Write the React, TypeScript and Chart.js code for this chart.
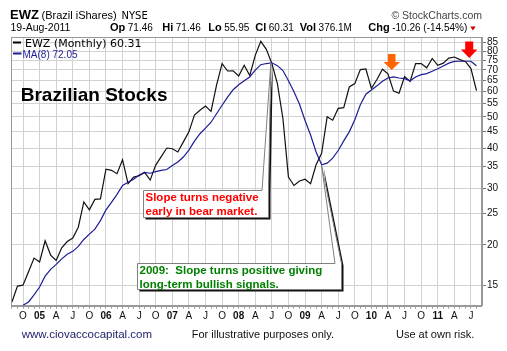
import React, { useEffect, useRef } from "react";
import { Chart, registerables } from "chart.js";

Chart.register(...registerables);

// Monthly periods (Aug 2004 .. Aug 2011)
const months = [
  "Aug-04","Sep-04","Oct-04","Nov-04","Dec-04",
  "Jan-05","Feb-05","Mar-05","Apr-05","May-05","Jun-05","Jul-05","Aug-05","Sep-05","Oct-05","Nov-05","Dec-05",
  "Jan-06","Feb-06","Mar-06","Apr-06","May-06","Jun-06","Jul-06","Aug-06","Sep-06","Oct-06","Nov-06","Dec-06",
  "Jan-07","Feb-07","Mar-07","Apr-07","May-07","Jun-07","Jul-07","Aug-07","Sep-07","Oct-07","Nov-07","Dec-07",
  "Jan-08","Feb-08","Mar-08","Apr-08","May-08","Jun-08","Jul-08","Aug-08","Sep-08","Oct-08","Nov-08","Dec-08",
  "Jan-09","Feb-09","Mar-09","Apr-09","May-09","Jun-09","Jul-09","Aug-09","Sep-09","Oct-09","Nov-09","Dec-09",
  "Jan-10","Feb-10","Mar-10","Apr-10","May-10","Jun-10","Jul-10","Aug-10","Sep-10","Oct-10","Nov-10","Dec-10",
  "Jan-11","Feb-11","Mar-11","Apr-11","May-11","Jun-11","Jul-11","Aug-11",
];

// EWZ monthly close
const closes = [
  13.3, 14.9, 15.0, 16.5, 18.2,
  17.7, 20.6, 18.6, 17.9, 19.6, 20.5, 21.0, 22.7, 27.2, 25.7, 27.7, 27.8,
  34.4, 34.1, 33.3, 36.8, 31.0, 32.5, 32.8, 33.6, 31.8, 35.4, 37.6, 40.0,
  39.8, 38.9, 41.8, 44.9, 50.6, 52.4, 54.0, 52.0, 62.7, 73.2, 69.4, 69.5,
  67.0, 72.3, 67.2, 77.6, 85.8, 81.0, 73.2, 63.4, 49.4, 32.5, 30.6, 31.6,
  32.0, 31.0, 35.5, 38.5, 50.0, 48.8, 53.1, 53.4, 61.9, 63.4, 70.1, 70.4,
  61.3, 65.3, 70.3, 68.0, 60.1, 59.2, 66.7, 64.4, 73.2, 73.2, 71.0, 75.9,
  72.3, 73.4, 76.1, 76.7, 75.3, 74.3, 70.6, 60.31,
];

// MA(8) as drawn
const ma8 = [
  null, null, 13.0, 13.3, 14.0,
  14.8, 16.0, 16.8, 17.4, 18.1, 18.7, 19.1, 19.8, 20.8, 21.6, 22.4, 23.8,
  25.7, 27.1, 28.7, 30.6, 31.3, 32.0, 33.0, 33.6, 33.4, 33.8, 34.1, 34.3,
  35.3, 36.2, 37.5, 39.4, 42.0, 44.3, 46.1, 48.1, 51.1, 54.3, 57.6, 60.7,
  62.9, 64.7, 66.5, 69.8, 72.6, 73.2, 73.6, 72.1, 69.6, 64.7, 59.8, 54.7,
  48.7, 43.9, 38.9, 35.5, 35.9, 37.2, 39.3, 42.1, 44.9, 49.0, 54.5, 58.8,
  60.6, 62.4, 64.5, 66.0, 66.5, 66.0, 65.7, 64.7, 66.5, 67.6, 68.1, 69.3,
  70.5, 71.9, 73.4, 74.3, 74.4, 74.4, 74.4, 72.05,
];

// quarterly axis labels, starting at Oct-04 (index 2), every 3 months
const quarterLabels = [
  "O","05","A","J","O","06","A","J","O","07","A","J","O","08","A","J",
  "O","09","A","J","O","10","A","J","O","11","A","J",
];
const firstQuarterIndex = 2;

const yTicks = [15, 20, 25, 30, 35, 40, 45, 50, 55, 60, 65, 70, 75, 80, 85];

// header quote values
const quoteLabels = ["Op", "Hi", "Lo", "Cl", "Vol", "Chg"];
const quoteValues = ["71.46", "71.46", "55.95", "60.31", "376.1M", "-10.26 (-14.54%)"];

const FONT = "Arial, 'Liberation Sans', Helvetica, sans-serif";
const VFONT = "'DejaVu Sans', Verdana, sans-serif";

function quarterLabel(v: number): string {
  const k = (v - firstQuarterIndex) / 3;
  if (Number.isInteger(k) && k >= 0 && k < quarterLabels.length) return quarterLabels[k];
  return "";
}

function balloon(
  ctx: CanvasRenderingContext2D,
  l: number, t: number, r: number, b: number,
  b0: number, b1: number, tx: number, ty: number
) {
  const path = () => {
    ctx.beginPath();
    ctx.moveTo(l, t);
    ctx.lineTo(b0, t);
    ctx.lineTo(tx, ty);
    ctx.lineTo(b1, t);
    ctx.lineTo(r, t);
    ctx.lineTo(r, b);
    ctx.lineTo(l, b);
    ctx.closePath();
  };
  ctx.save();
  ctx.translate(2, 2);
  path();
  ctx.fillStyle = "#111";
  ctx.fill();
  ctx.restore();
  path();
  ctx.fillStyle = "#fff";
  ctx.fill();
  ctx.strokeStyle = "#808080";
  ctx.lineWidth = 1;
  ctx.stroke();
}

function downArrow(ctx: CanvasRenderingContext2D, cx: number, top: number, shaftW: number, shaftB: number, headW: number, tip: number, color: string) {
  ctx.beginPath();
  ctx.moveTo(cx - shaftW / 2, top);
  ctx.lineTo(cx + shaftW / 2, top);
  ctx.lineTo(cx + shaftW / 2, shaftB);
  ctx.lineTo(cx + headW / 2, shaftB);
  ctx.lineTo(cx, tip);
  ctx.lineTo(cx - headW / 2, shaftB);
  ctx.lineTo(cx - shaftW / 2, shaftB);
  ctx.closePath();
  ctx.fillStyle = color;
  ctx.fill();
}

const extras = {
  id: "extras",
  beforeDraw(chart: any) {
    const ctx = chart.ctx as CanvasRenderingContext2D;
    ctx.save();
    ctx.fillStyle = "#fff";
    ctx.fillRect(0, 0, chart.width, chart.height);
    ctx.restore();
  },
  afterDraw(chart: any) {
    const ctx = chart.ctx as CanvasRenderingContext2D;
    const a = chart.chartArea;
    const xs = chart.scales.x;
    const ys = chart.scales.y;
    ctx.save();

    // plot frame (left/top)
    ctx.strokeStyle = "#999";
    ctx.lineWidth = 1;
    ctx.strokeRect(Math.round(a.left) + 0.5, Math.round(a.top) + 0.5, Math.round(a.right - a.left) - 1, Math.round(a.bottom - a.top));

    ctx.textBaseline = "alphabetic";
    ctx.textAlign = "left";

    // header line 1
    ctx.fillStyle = "#000";
    ctx.font = `bold 13px ${FONT}`;
    ctx.fillText("EWZ", 10, 19);
    ctx.font = `11px ${FONT}`;
    ctx.fillText("(Brazil iShares)", 41.5, 19);
    ctx.font = `10px ${VFONT}`;
    ctx.fillText("NYSE", 121.5, 19);
    ctx.fillStyle = "#444";
    ctx.font = `10.5px ${FONT}`;
    ctx.textAlign = "right";
    ctx.fillText("\u00A9 StockCharts.com", 482, 19);
    ctx.textAlign = "left";

    // header line 2
    ctx.fillStyle = "#000";
    ctx.font = `10.5px ${FONT}`;
    ctx.fillText("19-Aug-2011", 10.5, 31);
    const refX = [110, 162.3, 208.3, 253.3, 292, 368.3];
    let endX = 0;
    quoteLabels.forEach((lab, i) => {
      const x = Math.max(refX[i], endX + 6);
      ctx.font = `bold 11px ${FONT}`;
      ctx.fillText(lab, x, 31);
      const w = ctx.measureText(lab).width;
      ctx.font = `10px ${FONT}`;
      ctx.fillText(quoteValues[i], x + w + 2.5, 31);
      endX = x + w + 2.5 + ctx.measureText(quoteValues[i]).width;
    });
    ctx.beginPath();
    ctx.moveTo(endX + 3, 26.5);
    ctx.lineTo(endX + 8.5, 26.5);
    ctx.lineTo(endX + 5.75, 30.5);
    ctx.closePath();
    ctx.fillStyle = "#cc0000";
    ctx.fill();

    // legend inside plot
    ctx.lineWidth = 2;
    ctx.strokeStyle = "#000";
    ctx.beginPath();
    ctx.moveTo(13, 42.5);
    ctx.lineTo(21, 42.5);
    ctx.stroke();
    ctx.fillStyle = "#000";
    ctx.font = `11px ${VFONT}`;
    ctx.fillText("EWZ (Monthly) 60.31", 25, 46.5);
    ctx.strokeStyle = "#1c1c96";
    ctx.beginPath();
    ctx.moveTo(13, 53.5);
    ctx.lineTo(21.5, 53.5);
    ctx.stroke();
    ctx.fillStyle = "#1c1c96";
    ctx.font = `10px ${FONT}`;
    ctx.fillText("MA(8) 72.05", 22.5, 57.5);

    // title text
    ctx.fillStyle = "#000";
    ctx.font = `bold 19px ${FONT}`;
    ctx.fillText("Brazilian Stocks", 20.7, 100.5);

    // callouts
    const peakI = 47;
    const lowI = 56;
    const px1 = xs.getPixelForValue(peakI) - 1;
    const py1 = ys.getPixelForValue(ma8[peakI] as number);
    balloon(ctx, 143.5, 190.5, 268.5, 217.5, 262, 268.5, px1, py1);
    const px2 = xs.getPixelForValue(lowI);
    const py2 = ys.getPixelForValue(ma8[lowI] as number) + 1;
    balloon(ctx, 137.5, 263.5, 341.5, 289.5, 335, 341.5, px2, py2);

    ctx.font = `bold 11.5px ${FONT}`;
    ctx.fillStyle = "#ff0000";
    ctx.fillText("Slope turns negative", 145.5, 200.5);
    ctx.fillText("early in bear market.", 145.5, 214.5);
    ctx.fillStyle = "#008000";
    ctx.fillText("2009:  Slope turns positive giving", 139.5, 273.5);
    ctx.fillText("long-term bullish signals.", 139.5, 287.5);

    // arrows
    downArrow(ctx, 391.7, 54, 7.5, 62, 16.5, 70, "#ff6600");
    downArrow(ctx, 469.2, 41.5, 8, 49.5, 16.5, 58, "#ff0000");

    // footer
    ctx.font = `11.5px ${FONT}`;
    ctx.fillStyle = "#23236e";
    ctx.fillText("www.ciovaccocapital.com", 21.7, 338);
    ctx.font = `11px ${FONT}`;
    ctx.fillStyle = "#111";
    ctx.fillText("For illustrative purposes only.", 191.7, 338);
    ctx.fillText("Use at own risk.", 396, 338);

    ctx.restore();
  },
};

export default function App() {
  const ref = useRef<HTMLCanvasElement | null>(null);

  useEffect(() => {
    if (!ref.current) return;
    const priceData = closes.map((v, i) => ({ x: i, y: v }));
    const maData = ma8
      .map((v, i) => ({ x: i, y: v }))
      .filter((p) => p.y !== null) as { x: number; y: number }[];

    const chart = new Chart(ref.current, {
      type: "line",
      data: {
        labels: months,
        datasets: [
          {
            label: "MA(8)",
            data: maData,
            borderColor: "#1c1c96",
            borderWidth: 1.2,
            pointRadius: 0,
            tension: 0,
            fill: false,
          },
          {
            label: "EWZ (Monthly)",
            data: priceData,
            borderColor: "#111",
            borderWidth: 1.2,
            pointRadius: 0,
            tension: 0,
            fill: false,
          },
        ],
      },
      options: {
        animation: false,
        responsive: false,
        devicePixelRatio: 1,
        layout: { padding: { left: 11, top: 37, right: 0, bottom: 0 } },
        plugins: {
          legend: { display: false },
          tooltip: { enabled: false },
          title: { display: false },
        },
        scales: {
          x: {
            type: "linear",
            min: -0.17,
            max: 85,
            afterBuildTicks: (s: any) => {
              s.ticks = months.map((_, i) => ({ value: i }));
            },
            afterFit: (s: any) => {
              s.height = 45.3;
            },
            ticks: {
              autoSkip: false,
              maxRotation: 0,
              minRotation: 0,
              padding: 2,
              color: "#111",
              font: (c: any) => {
                const lab = c.tick ? quarterLabel(c.tick.value) : "";
                const bold = /\d/.test(lab);
                return { family: FONT, size: 10, weight: bold ? "bold" : "normal" };
              },
              callback: (v: any) => quarterLabel(Number(v)),
            },
            grid: {
              color: (c: any) =>
                c.tick && quarterLabel(c.tick.value) !== "" ? "#d2d2d2" : "rgba(0,0,0,0)",
              tickColor: "#999",
              tickLength: 3,
              drawTicks: true,
            },
            border: { display: true, color: "#999" },
          },
          y: {
            type: "logarithmic",
            position: "right",
            min: 12.95,
            max: 88.5,
            afterBuildTicks: (s: any) => {
              s.ticks = yTicks.map((v) => ({ value: v }));
            },
            afterFit: (s: any) => {
              s.width = 25;
            },
            ticks: {
              padding: 1,
              color: "#111",
              font: { family: FONT, size: 10 },
              callback: (v: any) => String(v),
            },
            grid: {
              color: "#d2d2d2",
              tickColor: "#777",
              tickLength: 4,
            },
            border: { display: true, color: "#999" },
          },
        },
      } as any,
      plugins: [extras],
    });
    return () => chart.destroy();
  }, []);

  return (
    <div style={{ position: "absolute", left: 0, top: 0, width: 507, height: 351, background: "#fff" }}>
      <canvas ref={ref} width={507} height={351} style={{ display: "block", width: 507, height: 351 }} />
    </div>
  );
}
